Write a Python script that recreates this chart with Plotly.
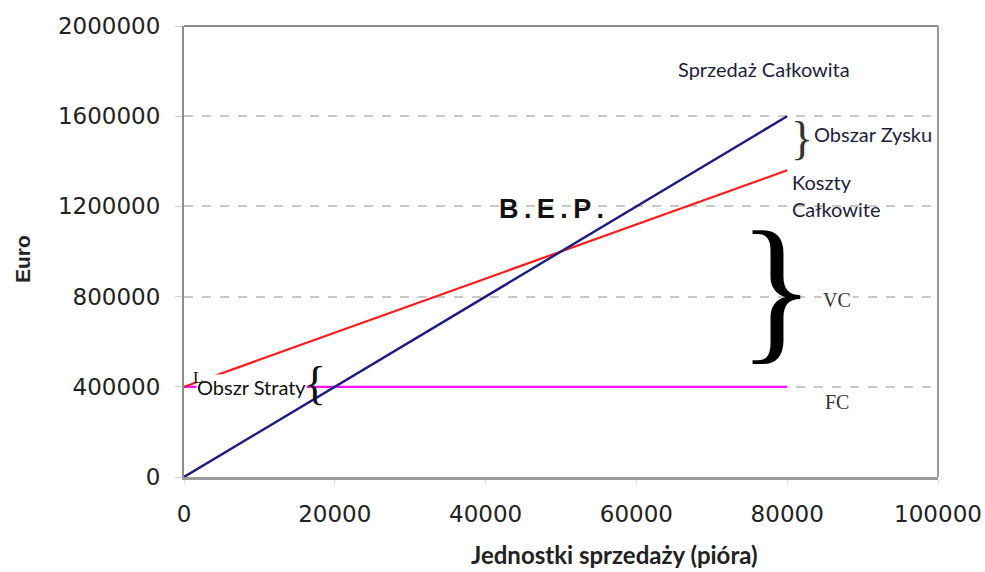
import plotly.graph_objects as go

# Break-even chart data
units = [0, 80000]
sales = [0, 1600000]
total_costs = [400000, 1360000]
fixed_costs = [400000, 400000]

x_ticks = [0, 20000, 40000, 60000, 80000, 100000]
y_ticks = [0, 400000, 800000, 1200000, 1600000, 2000000]

fig = go.Figure()

fig.add_trace(go.Scatter(x=units, y=fixed_costs, mode="lines",
                         line=dict(color="#ff10ff", width=2.2), name="FC"))
fig.add_trace(go.Scatter(x=units, y=total_costs, mode="lines",
                         line=dict(color="#ff1a1a", width=2.2), name="Koszty Całkowite"))
fig.add_trace(go.Scatter(x=units, y=sales, mode="lines",
                         line=dict(color="#1c1c80", width=2.4), name="Sprzedaż Całkowita"))

txt = "#1e1e3a"
ts = "\u2009"
annotations = [
    dict(x=76954, y=1808888, text="Sprzedaż Całkowita", xanchor="center",
         font=dict(family="Lato", size=20, color=txt)),
    dict(x=82000, y=1500000, text="}", xanchor="center",
         font=dict(family="Liberation Serif", size=46, color="#333333")),
    dict(x=83311, y=1520000, text="Obszar Zysku", xanchor="left",
         font=dict(family="Lato", size=20, color=txt)),
    dict(x=80400, y=1306666, text="Koszty", xanchor="left",
         font=dict(family="Lato", size=20, color=txt)),
    dict(x=80400, y=1186666, text="Całkowite", xanchor="left",
         font=dict(family="Lato", size=20, color=txt)),
    dict(x=48700, y=1186666, text="<b>B" + ts + "." + ts + "E" + ts + "." + ts + "P" + ts + ".</b>",
         xanchor="center",
         font=dict(family="Liberation Sans", size=27, color="#111111")),
    dict(x=78543, y=840000, text="}", xanchor="center",
         font=dict(family="Liberation Serif", size=160, color="#000000")),
    dict(x=86622, y=786666, text="VC", xanchor="center", bgcolor="white",
         font=dict(family="Liberation Serif", size=20, color="#333333")),
    dict(x=86622, y=333000, text="FC", xanchor="center", bgcolor="white",
         font=dict(family="Liberation Serif", size=20, color="#333333")),
    dict(x=9006, y=400000, text="Obszr Straty", xanchor="center", bgcolor="white",
         borderpad=0,
         font=dict(family="Lato", size=20, color="#111111")),
    dict(x=17351, y=413000, text="{", xanchor="center",
         font=dict(family="Liberation Serif", size=46, color="#111111")),
    dict(x=1900, y=440000, text="L", xanchor="center",
         font=dict(family="Liberation Serif", size=17, color="#111111")),
]
for a in annotations:
    a.setdefault("showarrow", False)
    a.setdefault("yanchor", "middle")

annotations += [
    dict(xref="paper", yref="paper", x=(614 - 184) / 754, y=(477 - 554) / 451,
         xanchor="center", yanchor="middle",
         text="<b>Jednostki sprzedaży (pióra)</b>", showarrow=False,
         font=dict(family="Lato", size=24, color="#222222")),
    dict(xref="paper", yref="paper", x=(22 - 184) / 754, y=(477 - 259) / 451,
         xanchor="center", yanchor="middle",
         text="<b>Euro</b>", textangle=-90, showarrow=False,
         font=dict(family="Liberation Sans", size=21, color="#222222")),
]

fig.update_layout(
    width=985, height=572,
    margin=dict(l=184, r=47, t=26, b=95),
    paper_bgcolor="white", plot_bgcolor="white",
    showlegend=False,
    annotations=annotations,
    shapes=[
        dict(type="line", xref="paper", yref="paper", x0=0, x1=1, y0=1, y1=1,
             line=dict(color="#8c8c8c", width=2)),
        dict(type="line", xref="paper", yref="paper", x0=1, x1=1, y0=0, y1=1,
             line=dict(color="#9a9a9a", width=2)),
    ],
)

fig.update_xaxes(
    range=[0, 100000], tickvals=x_ticks, ticktext=[str(v) for v in x_ticks],
    showgrid=False, zeroline=False, automargin=False,
    showline=True, linecolor="#9a9a9a", linewidth=3,
    ticks="outside", ticklen=5, tickcolor="#e0e0e0",
    ticklabelstandoff=9,
    tickfont=dict(family="DejaVu Sans", size=23, color="#222222"),
)
fig.update_yaxes(
    range=[0, 2000000], tickvals=y_ticks, ticktext=[str(v) for v in y_ticks],
    showgrid=True, gridcolor="#c8c8c8", gridwidth=1.5, griddash="dash",
    zeroline=False, automargin=False,
    showline=True, linecolor="#8c8c8c", linewidth=2,
    ticks="outside", ticklen=7, tickcolor="#d0d0d0",
    ticklabelstandoff=10,
    tickfont=dict(family="DejaVu Sans", size=23, color="#222222"),
)

fig.write_html("out.html")
